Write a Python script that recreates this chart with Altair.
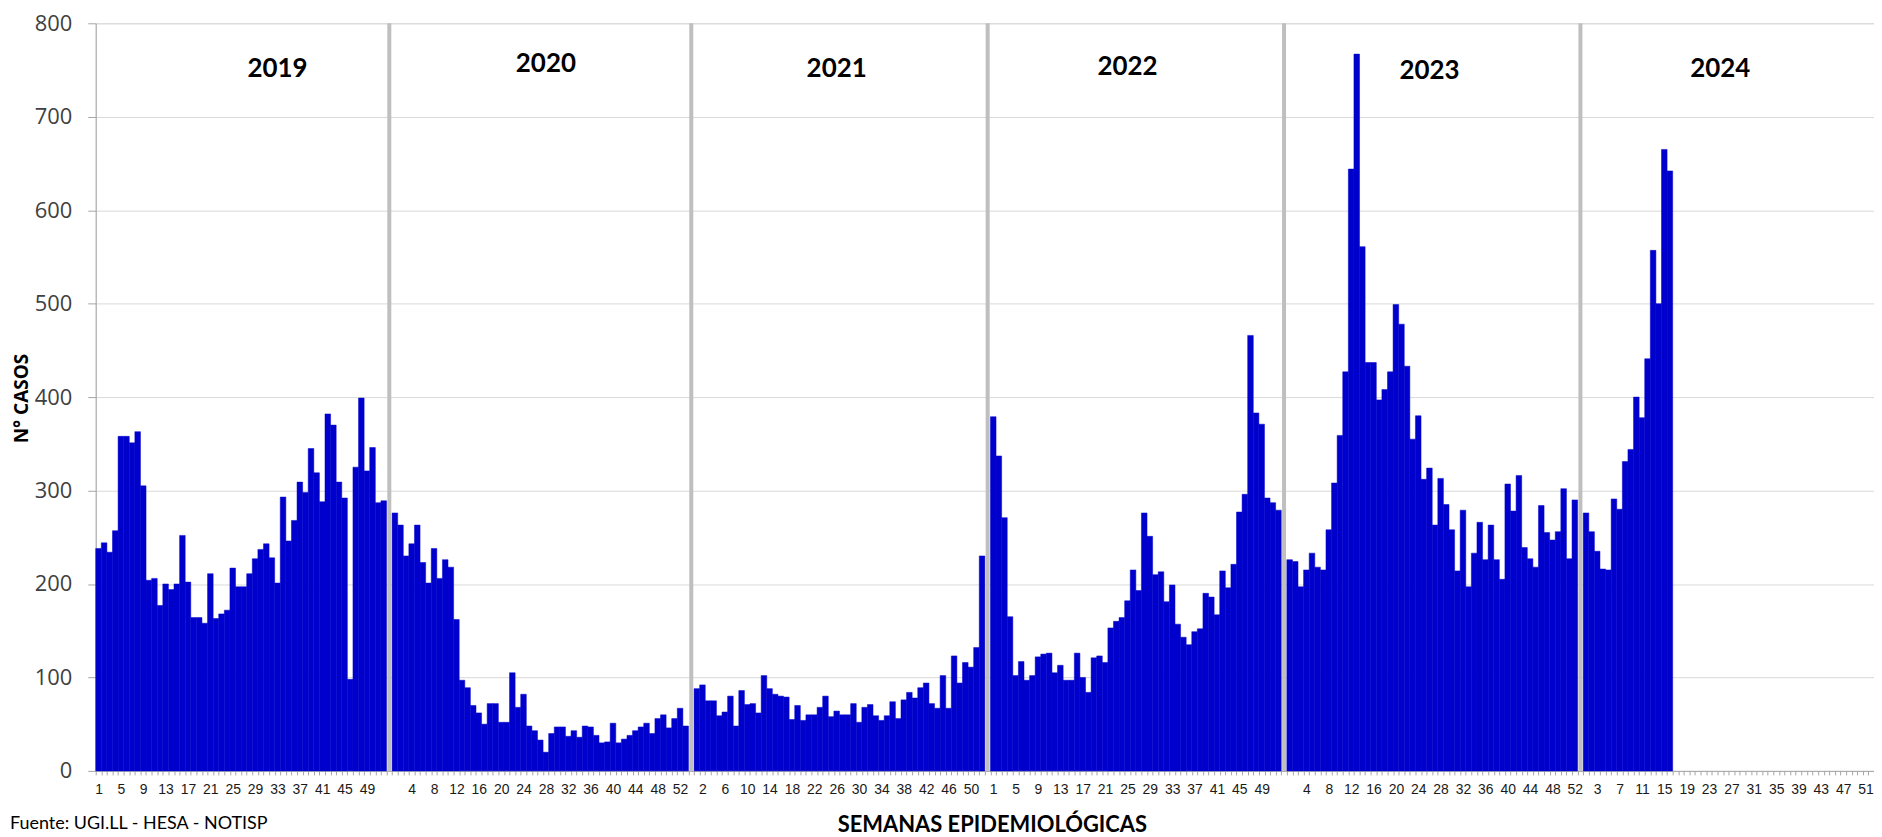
import altair as alt
import pandas as pd

# ---- data ----
years = [2019, 2020, 2021, 2022, 2023, 2024]
weeks_in_year = {2019: 52, 2020: 53, 2021: 52, 2022: 52, 2023: 52, 2024: 52}

cases_2019 = [238, 244, 234, 257, 358, 358, 351, 363, 305, 204, 206, 177, 200, 194, 200, 252,
              202, 164, 164, 158, 211, 163, 168, 172, 217, 197, 197, 211, 227, 237, 243, 228,
              201, 293, 246, 268, 309, 298, 345, 319, 288, 382, 370, 309, 292, 98, 325, 399,
              321, 346, 287, 289]
cases_2020 = [276, 263, 230, 243, 263, 223, 201, 238, 206, 226, 218, 162, 97, 89, 70, 62,
              50, 72, 72, 52, 52, 105, 68, 82, 48, 43, 33, 20, 40, 47, 47, 37, 43, 36, 48, 47,
              38, 30, 31, 51, 30, 34, 38, 43, 47, 51, 40, 56, 60, 46, 56, 67, 48]
cases_2021 = [88, 92, 75, 75, 59, 63, 80, 48, 86, 71, 72, 62, 102, 88, 82, 80, 79, 55, 70, 54,
              60, 60, 68, 80, 58, 64, 60, 60, 72, 52, 68, 71, 59, 54, 59, 74, 56, 76, 84, 78,
              89, 94, 72, 67, 102, 67, 123, 94, 116, 111, 132, 230]
cases_2022 = [379, 337, 271, 165, 102, 117, 97, 102, 122, 125, 126, 105, 113, 97, 97, 126,
              100, 84, 121, 123, 116, 153, 160, 164, 182, 215, 193, 276, 251, 210, 213, 181,
              199, 157, 143, 135, 149, 152, 190, 186, 167, 214, 196, 221, 277, 296, 466, 383,
              371, 292, 287, 279]
cases_2023 = [226, 224, 197, 215, 233, 218, 215, 258, 308, 359, 427, 644, 767, 561, 437, 437,
              397, 408, 427, 499, 478, 433, 355, 380, 312, 324, 263, 313, 285, 258, 214, 279,
              197, 233, 266, 226, 263, 226, 205, 307, 278, 316, 239, 227, 218, 284, 255, 247,
              256, 302, 227, 290]
cases_2024 = [276, 256, 235, 216, 215, 291, 280, 331, 344, 400, 378, 441, 557, 500, 665, 642]

cases = {2019: cases_2019, 2020: cases_2020, 2021: cases_2021,
         2022: cases_2022, 2023: cases_2023, 2024: cases_2024}

# week under which each year label is centred, and its height in the value scale
year_label_week = {2019: 33, 2020: 28, 2021: 26, 2022: 25, 2023: 26, 2024: 25}
year_label_level = {2019: 751, 2020: 756, 2021: 751, 2022: 753, 2023: 749, 2024: 751}

# ---- build the category table (one empty separator category between years) ----
rows = []
idx = 0
for yi, yr in enumerate(years):
    if yi > 0:
        idx += 1
        rows.append(dict(key=f"{idx:03d}|", kind="sep", value=None, year=yr, week=0))
    vals = cases[yr]
    for w in range(1, weeks_in_year[yr] + 1):
        idx += 1
        lab = str(w) if idx % 4 == 1 else ""
        val = vals[w - 1] if w <= len(vals) else None
        rows.append(dict(key=f"{idx:03d}|{lab}", kind="data", value=val, year=yr, week=w))

df = pd.DataFrame(rows)
keys = list(df["key"])
df_bars = df[(df["kind"] == "data") & df["value"].notna()].copy()
df_sep = df[df["kind"] == "sep"].copy()

ylab_rows = []
for yr in years:
    k = df[(df["year"] == yr) & (df["week"] == year_label_week[yr]) & (df["kind"] == "data")]["key"].iloc[0]
    ylab_rows.append(dict(key=k, year=str(yr), level=year_label_level[yr]))
df_ylab = pd.DataFrame(ylab_rows)

W, H = 1784, 750
xscale = alt.Scale(domain=keys, paddingInner=0, paddingOuter=0)
yscale = alt.Scale(domain=[0, 800], nice=False)

x_axis = alt.Axis(
    title="SEMANAS EPIDEMIOLÓGICAS",
    labelExpr="split(datum.value, '|')[1]",
    labelAngle=0, labelOverlap=False, labelFlush=False, labelBound=False,
    tickBand="extent", tickSize=4, tickColor="#a6a6a6",
    domainColor="#a6a6a6", grid=False,
    labelFont="Liberation Sans, Arial, sans-serif",
    labelFontSize=14, labelColor="#1a1a1a", labelPadding=8,
    titleFont="Lato", titleFontWeight="bold", titleFontSize=22, titleColor="#000000",
    titleX=899, titleY=54, titleBaseline="middle",
)
y_axis = alt.Axis(
    title="N° CASOS", values=list(range(0, 801, 100)),
    grid=True, gridColor="#d9d9d9", domainColor="#a6a6a6", tickColor="#a6a6a6",
    tickSize=8, labelFont="Open Sans", labelFontSize=22, labelColor="#404040", labelPadding=16,
    titleFont="Open Sans", titleFontWeight="bold", titleFontSize=19, titleColor="#000000",
    titleX=-74, titleY=376, titleBaseline="middle",
)

bars = alt.Chart(df_bars).mark_bar(color="#0000CC", stroke="#0000CC", strokeWidth=0.5).encode(
    x=alt.X("key:N", scale=xscale, axis=x_axis),
    y=alt.Y("value:Q", scale=yscale, axis=y_axis),
)

seps = alt.Chart(df_sep).mark_rule(color="#bfbfbf", strokeWidth=4).encode(
    x=alt.X("key:N", scale=xscale, bandPosition=0.5),
)

ylabels = alt.Chart(df_ylab).mark_text(
    font="Lato", fontWeight="bold", fontSize=26, color="#000000",
    align="center", baseline="middle",
).encode(
    x=alt.X("key:N", scale=xscale, bandPosition=0.5),
    y=alt.Y("level:Q", scale=yscale),
    text="year:N",
)

source = alt.Chart(pd.DataFrame({"t": ["Fuente: UGI.LL - HESA - NOTISP"]})).mark_text(
    font="Lato", fontSize=18, color="#000000", align="left", baseline="top",
).encode(x=alt.value(-86), y=alt.value(794), text="t:N")

chart = alt.layer(bars, seps, ylabels, source).properties(
    width=W, height=H,
    autosize=alt.AutoSizeParams(type="none"),
    padding={"left": 88, "top": 14, "right": 0, "bottom": 66},
).configure_view(stroke=None).configure(background="white")

chart.save("out.html", embed_options={"renderer": "svg", "actions": False})
